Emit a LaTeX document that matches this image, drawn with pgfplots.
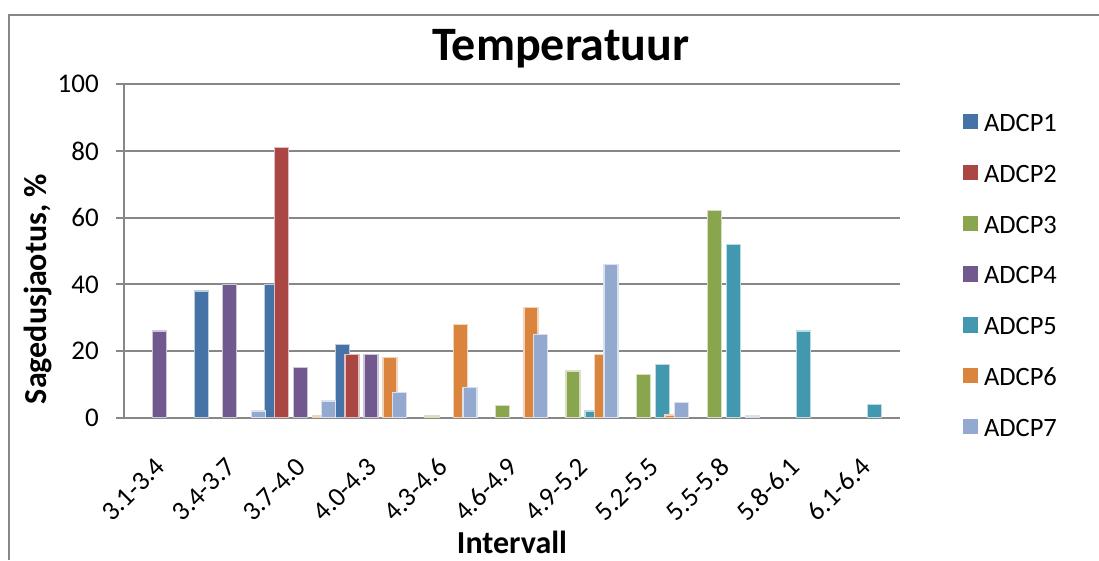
\documentclass[border=0pt]{standalone}
\usepackage{fontspec}
\setmainfont{Carlito}
\usepackage{pgfplots}
\pgfplotsset{compat=1.18}
\definecolor{cA}{HTML}{4572A7}
\definecolor{cB}{HTML}{AA4643}
\definecolor{cC}{HTML}{89A54E}
\definecolor{cD}{HTML}{71588F}
\definecolor{cE}{HTML}{4198AF}
\definecolor{cF}{HTML}{DB843D}
\definecolor{cG}{HTML}{93A9CF}
\definecolor{axgray}{HTML}{878787}
\begin{document}
\begin{tikzpicture}[x=1pt,y=1pt]
\useasboundingbox (0,0) rectangle (1099,560);
\fill[white] (0,0) rectangle (1099,560);
\draw[line width=2pt, color=axgray] (8.5,0) -- (8.5,545) -- (1099,545);
\begin{axis}[
  at={(124pt,142.3pt)}, anchor=south west,
  scale only axis, width=776pt, height=333.4pt,
  xmin=-0.5, xmax=10.5, ymin=0, ymax=100,
  axis lines=left,
  axis line style={-, line width=2pt, color=axgray},
  xtick={0,1,2,3,4,5,6,7,8,9,10},
  xticklabels={3.1-3.4,3.4-3.7,3.7-4.0,4.0-4.3,4.3-4.6,4.6-4.9,4.9-5.2,5.2-5.5,5.5-5.8,5.8-6.1,6.1-6.4},
  x tick style={draw=none},
  ytick={0,20,40,60,80,100},
  ymajorgrids,
  grid style={line width=2pt, color=axgray},
  y tick style={line width=2pt, color=axgray},
  tick align=outside, major tick length=8pt,
  /pgf/number format/assume math mode=true,
  yticklabel style={anchor=east, inner sep=0pt, xshift=-17pt, font=\fontsize{27}{32}\selectfont},
  xticklabel style={yshift=-36.5pt, xshift=1pt, rotate=45, anchor=east, inner sep=0pt, font=\fontsize{27}{32}\selectfont},
  title={Temperatuur},
  title style={at={(axis description cs:0.563,1.054)}, anchor=base, inner sep=0pt, font=\fontsize{48}{56}\selectfont\bfseries},
  xlabel={Intervall},
  xlabel style={at={(axis description cs:0.5,-0.406)}, anchor=base, inner sep=0pt, font=\fontsize{32}{38}\selectfont\bfseries},
  ylabel={Sagedusjaotus, \%},
  ylabel style={at={(axis description cs:-0.111,0.386)}, anchor=center, rotate=0, inner sep=0pt, font=\fontsize{32}{38}\selectfont\bfseries},
  ybar, bar width=14pt,
  legend style={at={(axis description cs:1.0812,0.911)}, anchor=north west, draw=none, fill=none,
    inner sep=0pt, outer sep=0pt, row sep=33.3pt, column sep=6pt,
    font=\fontsize{26.5}{30}\selectfont,
    nodes={inner sep=0pt, text height=16pt, text depth=0pt}},
  legend cell align=left,
  legend image code/.code={\fill[#1, draw=none] (0pt,-6pt) rectangle (15pt,9.5pt);},
]
\addplot[fill=cA, draw=cA!35!white, line width=1.2pt, bar shift=-28.5pt] coordinates {(1,38) (2,40) (3,22)};
\addplot[fill=cB, draw=cB!35!white, line width=1.2pt, bar shift=-19pt] coordinates {(2,81) (3,19)};
\addplot[fill=cC, draw=cC!35!white, line width=1.2pt, bar shift=-9.5pt] coordinates {(4,0.5) (5,3.6) (6,14) (7,13) (8,62.2)};
\addplot[fill=cD, draw=cD!35!white, line width=1.2pt, bar shift=0pt] coordinates {(0,26) (1,40) (2,15) (3,19)};
\addplot[fill=cE, draw=cE!35!white, line width=1.2pt, bar shift=9.5pt] coordinates {(6,2) (7,16) (8,52) (9,26) (10,4)};
\addplot[fill=cF, draw=cF!35!white, line width=1.2pt, bar shift=19pt] coordinates {(2,0.5) (3,18) (4,28) (5,33) (6,19) (7,0.8)};
\addplot[fill=cG, draw=cG!35!white, line width=1.2pt, bar shift=28.5pt] coordinates {(1,2) (2,5) (3,7.6) (4,9) (5,25) (6,46) (7,4.5) (8,0.5)};
\legend{ADCP1,ADCP2,ADCP3,ADCP4,ADCP5,ADCP6,ADCP7}
\end{axis}
\end{tikzpicture}
\end{document}
